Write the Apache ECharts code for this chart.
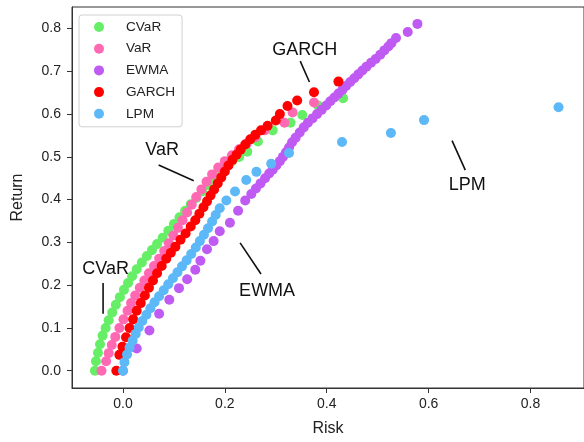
<!DOCTYPE html>
<html>
<head>
<meta charset="utf-8">
<script src="https://cdn.jsdelivr.net/npm/echarts@6/dist/echarts.min.js"></script>
<style>
  html, body { margin: 0; padding: 0; background: #fff; }
  #chart { width: 584px; height: 442px; }
</style>
</head>
<body>
<div id="chart"></div>
<script>
// Risk / return frontiers for five risk measures, [risk, return] per point
const cvarPoints = [
  [-0.055,0.000],[-0.053,0.022],[-0.049,0.042],[-0.045,0.062],[-0.040,0.082],
  [-0.034,0.100],[-0.028,0.118],[-0.021,0.136],[-0.014,0.154],[-0.006,0.172],
  [0.002,0.189],[0.010,0.205],[0.018,0.221],[0.027,0.237],[0.037,0.253],
  [0.047,0.268],[0.057,0.282],[0.067,0.296],[0.078,0.311],[0.089,0.327],
  [0.100,0.343],[0.111,0.359],[0.122,0.374],[0.133,0.389],[0.144,0.404],
  [0.155,0.419],[0.166,0.434],[0.177,0.449],[0.189,0.464],[0.201,0.478],
  [0.214,0.490],[0.228,0.500],[0.244,0.512],[0.265,0.536],[0.294,0.562],
  [0.329,0.580],[0.352,0.598],[0.383,0.620],[0.432,0.637]
];
const varPoints = [
  [-0.042,0.000],[-0.033,0.022],[-0.028,0.041],[-0.022,0.060],[-0.015,0.079],
  [-0.007,0.100],[0.001,0.120],[0.009,0.140],[0.016,0.158],[0.024,0.176],
  [0.033,0.194],[0.042,0.211],[0.051,0.228],[0.061,0.245],[0.071,0.262],
  [0.081,0.280],[0.090,0.298],[0.099,0.316],[0.108,0.334],[0.117,0.352],
  [0.126,0.370],[0.135,0.388],[0.144,0.406],[0.154,0.424],[0.164,0.442],
  [0.175,0.459],[0.187,0.475],[0.200,0.490],[0.214,0.504],[0.228,0.518],
  [0.243,0.531],[0.260,0.546],[0.278,0.562],[0.317,0.580],[0.333,0.604],
  [0.375,0.627]
];
const ewmaPoints = [
  [0.000,0.000],[0.027,0.052],[0.052,0.094],[0.071,0.133],[0.091,0.166],
  [0.110,0.193],[0.126,0.214],[0.142,0.236],[0.152,0.257],[0.165,0.284],
  [0.178,0.303],[0.190,0.326],[0.210,0.346],[0.226,0.374],[0.240,0.398],
  [0.252,0.413],[0.261,0.426],[0.270,0.438],[0.279,0.450],[0.287,0.461],
  [0.294,0.470],[0.301,0.480],[0.308,0.490],[0.314,0.500],[0.320,0.511],
  [0.326,0.522],[0.332,0.534],[0.339,0.545],[0.347,0.557],[0.355,0.569],
  [0.363,0.580],[0.372,0.590],[0.381,0.600],[0.390,0.610],[0.399,0.620],
  [0.407,0.630],[0.415,0.639],[0.423,0.648],[0.431,0.657],[0.438,0.666],
  [0.446,0.675],[0.454,0.684],[0.462,0.693],[0.470,0.702],[0.478,0.711],
  [0.487,0.720],[0.496,0.729],[0.505,0.739],[0.513,0.749],[0.521,0.758],
  [0.527,0.766],[0.536,0.778],[0.559,0.792],[0.578,0.811]
];
const garchPoints = [
  [-0.013,0.000],[-0.007,0.037],[-0.001,0.056],[0.006,0.078],[0.013,0.100],
  [0.020,0.120],[0.027,0.140],[0.035,0.158],[0.043,0.176],[0.051,0.194],
  [0.059,0.211],[0.067,0.228],[0.076,0.245],[0.085,0.262],[0.094,0.276],
  [0.103,0.290],[0.113,0.306],[0.123,0.321],[0.133,0.337],[0.142,0.352],
  [0.150,0.367],[0.158,0.382],[0.165,0.396],[0.172,0.410],[0.179,0.424],
  [0.186,0.438],[0.193,0.452],[0.200,0.466],[0.207,0.480],[0.215,0.493],
  [0.223,0.505],[0.231,0.517],[0.240,0.529],[0.250,0.541],[0.260,0.552],
  [0.271,0.562],[0.284,0.573],[0.300,0.585],[0.308,0.600],[0.323,0.619],
  [0.342,0.632],[0.375,0.651],[0.423,0.676]
];
const lpmPoints = [
  [0.000,0.000],[0.003,0.020],[0.008,0.038],[0.013,0.054],[0.019,0.070],
  [0.025,0.086],[0.031,0.101],[0.038,0.116],[0.046,0.131],[0.054,0.146],
  [0.062,0.160],[0.071,0.174],[0.080,0.188],[0.089,0.202],[0.098,0.216],
  [0.107,0.230],[0.116,0.244],[0.125,0.258],[0.134,0.273],[0.143,0.288],
  [0.151,0.303],[0.159,0.318],[0.167,0.333],[0.175,0.349],[0.182,0.364],
  [0.190,0.380],[0.203,0.398],[0.220,0.419],[0.242,0.446],[0.262,0.465],
  [0.291,0.484],[0.326,0.509],[0.430,0.535],[0.526,0.556],[0.591,0.586],
  [0.855,0.616]
];

const seriesNames = ['CVaR', 'VaR', 'EWMA', 'GARCH', 'LPM'];
const seriesColors = ['#66ee66', '#ff69b4', '#bf5af2', '#ff0000', '#5cb8f7'];
const seriesPoints = [cvarPoints, varPoints, ewmaPoints, garchPoints, lpmPoints];

const xTicks = [0, 0.2, 0.4, 0.6, 0.8];
const yTicks = [0, 0.1, 0.2, 0.3, 0.4, 0.5, 0.6, 0.7, 0.8];

// Callout labels: text anchor and leader line ends, in [risk, return] units
const callouts = [
  { text: 'GARCH', at: [0.357, 0.751], from: [0.348, 0.724], to: [0.366, 0.675] },
  { text: 'VaR',   at: [0.077, 0.515], from: [0.070, 0.481], to: [0.139, 0.444] },
  { text: 'CVaR',  at: [-0.034, 0.237], from: [-0.039, 0.205], to: [-0.039, 0.133] },
  { text: 'EWMA',  at: [0.283, 0.186], from: [0.230, 0.299], to: [0.271, 0.226] },
  { text: 'LPM',   at: [0.676, 0.435], from: [0.646, 0.538], to: [0.672, 0.469] }
];

const FONT = '"Liberation Sans", Arial, sans-serif';
const chart = echarts.init(document.getElementById('chart'), null, { renderer: 'canvas' });

const axisCommon = {
  axisLine: { show: true, onZero: false, lineStyle: { color: '#333', width: 1 } },
  axisTick: { show: true, inside: false, length: 5, lineStyle: { color: '#333', width: 1 } },
  splitLine: { show: false },
  axisLabel: { color: '#222', fontSize: 14, fontFamily: FONT, formatter: v => v.toFixed(1) },
  nameLocation: 'middle',
  nameTextStyle: { color: '#222', fontSize: 16, fontFamily: FONT }
};

chart.setOption({
  animation: false,
  backgroundColor: '#fff',
  grid: {
    left: 72, top: 7, right: -6, bottom: 50,
    show: true, borderColor: '#333', borderWidth: 1, backgroundColor: 'transparent'
  },
  xAxis: Object.assign({}, axisCommon, {
    type: 'value', min: -0.1, max: 0.905,
    name: 'Risk', nameGap: 33,
    axisTick: Object.assign({}, axisCommon.axisTick, { customValues: xTicks }),
    axisLabel: Object.assign({}, axisCommon.axisLabel, { customValues: xTicks, margin: 9 })
  }),
  yAxis: Object.assign({}, axisCommon, {
    type: 'value', min: -0.0405, max: 0.8505,
    name: 'Return', nameGap: 46,
    axisTick: Object.assign({}, axisCommon.axisTick, { customValues: yTicks }),
    axisLabel: Object.assign({}, axisCommon.axisLabel, { customValues: yTicks, margin: 11 })
  }),
  legend: {
    orient: 'vertical', left: 79, top: 15,
    padding: [4, 7, 5, 15],
    itemWidth: 10, itemHeight: 10, itemGap: 5.7,
    icon: 'circle',
    backgroundColor: 'rgba(255,255,255,0.85)',
    borderColor: '#d0d0d0', borderWidth: 1, borderRadius: 3,
    textStyle: { color: '#222', fontSize: 13.6, fontFamily: FONT, lineHeight: 16, padding: [0, 0, 0, 17] },
    data: seriesNames
  },
  series: seriesNames.map((name, i) => ({
    name: name,
    type: 'scatter',
    symbol: 'circle',
    symbolSize: 10,
    itemStyle: { color: seriesColors[i], opacity: 1 },
    emphasis: { disabled: true },
    data: seriesPoints[i]
  }))
});

// Leader lines and labels placed through the axis scales
const graphics = [];
callouts.forEach(c => {
  const p = chart.convertToPixel({ gridIndex: 0 }, c.at);
  const a = chart.convertToPixel({ gridIndex: 0 }, c.from);
  const b = chart.convertToPixel({ gridIndex: 0 }, c.to);
  graphics.push({
    type: 'line', silent: true, z: 20,
    shape: { x1: a[0], y1: a[1], x2: b[0], y2: b[1] },
    style: { stroke: '#111', lineWidth: 1.6 }
  });
  graphics.push({
    type: 'text', silent: true, z: 20, x: p[0], y: p[1],
    style: { text: c.text, fill: '#111', fontSize: 18, fontFamily: FONT, align: 'center', verticalAlign: 'middle' }
  });
});
chart.setOption({ graphic: graphics });
</script>
</body>
</html>
